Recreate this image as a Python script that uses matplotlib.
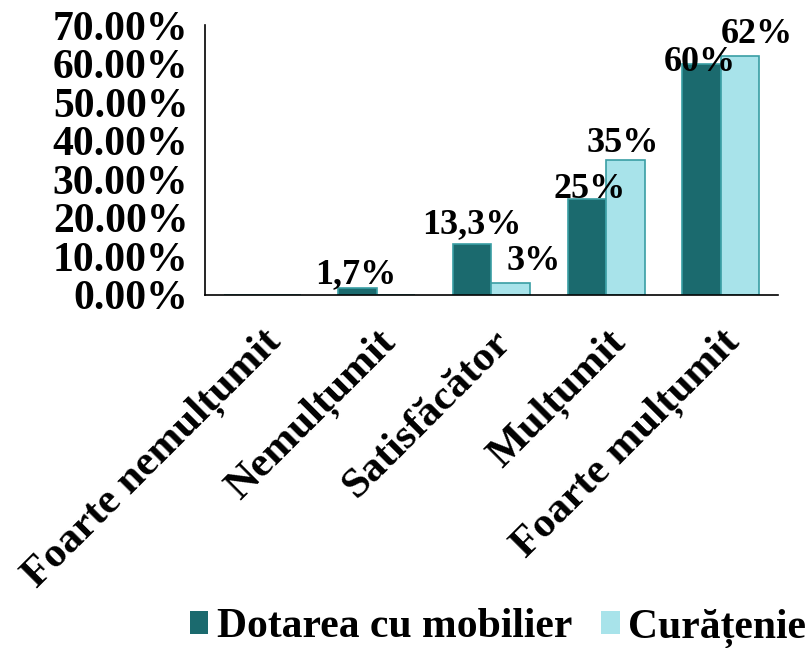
import numpy as np
import matplotlib
matplotlib.use("Agg")
import matplotlib.pyplot as plt
import matplotlib.ticker as ticker
from matplotlib.patches import Patch

# survey answers (share of respondents)
categories = ["Foarte nemulțumit", "Nemulțumit", "Satisfăcător", "Mulțumit", "Foarte mulțumit"]
mobilier = [0.0, 0.017, 0.133, 0.25, 0.60]
curatenie = [0.0, 0.0, 0.03, 0.35, 0.62]
mobilier_labels = ["", "1,7%", "13,3%", "25%", "60%"]
curatenie_labels = ["", "", "3%", "35%", "62%"]
series_names = ["Dotarea cu mobilier", "Curățenie"]

# hand-placed label nudges (pixels), like the original worksheet
mobilier_shift = [(0, 0), (-2, 5), (0, 10), (3, 1), (-2, -7)]
curatenie_shift = [(0, 0), (0, 0), (23, 13), (-3, 8), (17, 13)]

dark = "#1b6a6e"
light = "#a8e3ea"
edge = "#3a9ea4"

plt.rcParams["font.family"] = ["Liberation Serif", "DejaVu Serif"]
plt.rcParams["font.weight"] = "bold"

fig = plt.figure(figsize=(8.07, 6.48), dpi=100)
ax = fig.add_axes([0.254, 0.545, 0.71, 0.416])

x = np.arange(len(categories))
w = 0.336
b1 = ax.bar(x - w / 2, mobilier, w, color=dark, edgecolor=edge, linewidth=1.2)
b2 = ax.bar(x + w / 2, curatenie, w, color=light, edgecolor=edge, linewidth=1.2)

def put_labels(bars, texts, shifts):
    for bar, txt, (dx, dy) in zip(bars, texts, shifts):
        if not txt:
            continue
        ax.annotate(txt, (bar.get_x() + bar.get_width() / 2, bar.get_height()),
                    xytext=(dx, dy), textcoords="offset pixels",
                    ha="center", va="baseline", fontsize=26,
                    fontweight="bold", annotation_clip=False)

put_labels(b1, mobilier_labels, mobilier_shift)
put_labels(b2, curatenie_labels, curatenie_shift)

ax.set_xlim(-0.5, len(categories) - 0.5)
ax.set_ylim(0, 0.70)
ax.yaxis.set_major_locator(ticker.MultipleLocator(0.10))
ax.yaxis.set_major_formatter(ticker.PercentFormatter(1.0, decimals=2))
ax.set_xticks(x)
ax.set_xticklabels(categories, rotation=45, ha="right", rotation_mode="anchor")
ax.tick_params(axis="both", length=0, labelsize=30)
ax.tick_params(axis="y", pad=12)
ax.tick_params(axis="x", labelsize=31, pad=20)
for lab in ax.get_xticklabels() + ax.get_yticklabels():
    lab.set_fontweight("bold")

ax.spines["top"].set_visible(False)
ax.spines["right"].set_visible(False)
ax.spines["left"].set_linewidth(1.2)
ax.spines["bottom"].set_linewidth(1.2)

handles = [Patch(facecolor=dark, edgecolor="none"), Patch(facecolor=light, edgecolor="none")]
fig.legend(handles, series_names, loc="center", bbox_to_anchor=(0.617, 0.031), ncol=2,
           frameon=False, prop={"size": 30, "weight": "bold"}, handlelength=0.45,
           handleheight=0.45, handletextpad=0.2, columnspacing=0.7,
           borderaxespad=0, borderpad=0)

fig.savefig("out.png", dpi=100)
